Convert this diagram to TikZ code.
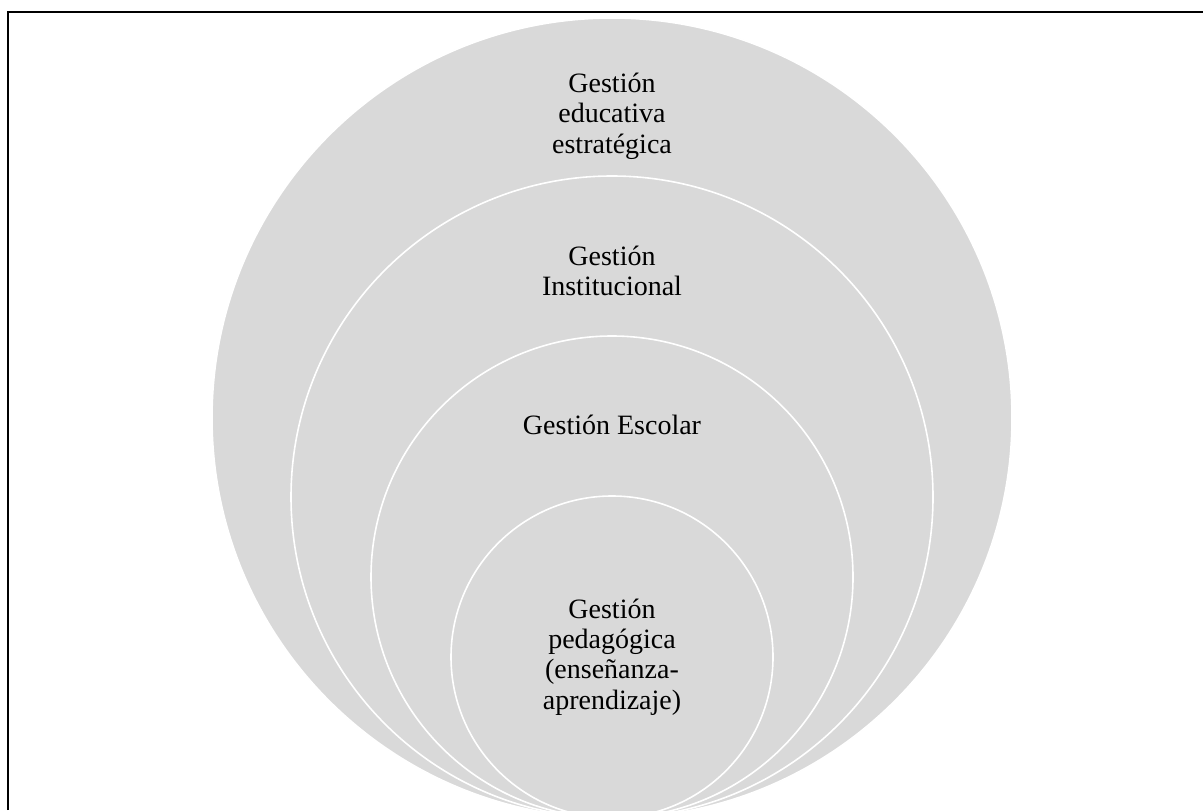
\documentclass[tikz,border=0pt]{standalone}
\usepackage{fontspec}
\setmainfont{Liberation Serif}
\definecolor{ringgray}{HTML}{D9D9D9}
\usetikzlibrary{positioning}

\begin{document}
\begin{tikzpicture}[
  x=0.5pt,y=0.5pt,
  every node/.style={font=\fontsize{14}{15.2}\selectfont},
  ring/.style={circle,fill=ringgray,draw=white,line width=0.8pt,
    inner sep=0pt,outer sep=0pt},
  ringtext/.style={align=center,inner sep=0pt}
]
  \clip (0,0) rectangle (1203,810);

  % nested rings, all touching at the bottom
  \node[ring,minimum size=400pt] (estrategica) at (612,392) {};
  \node[ring,minimum size=321pt] (institucional) at (612,313) {};
  \node[ring,minimum size=241pt] (escolar) at (612,233) {};
  \node[ring,minimum size=161pt] (pedagogica) at (612,153) {};

  \node[ringtext] (testrategica) at (612,694)
    {Gestión\\educativa\\estratégica};
  \node[ringtext] (tinstitucional) at (612,539)
    {Gestión\\Institucional};
  \node[ringtext] (tescolar) at (612,385) {Gestión Escolar};
  \node[ringtext] (tpedagogica) at (pedagogica.center)
    {Gestión\\pedagógica\\(enseñanza-\\aprendizaje)};

  % frame
  \draw[line width=1.2pt] (8,0) |- (1210,798);
\end{tikzpicture}
\end{document}
